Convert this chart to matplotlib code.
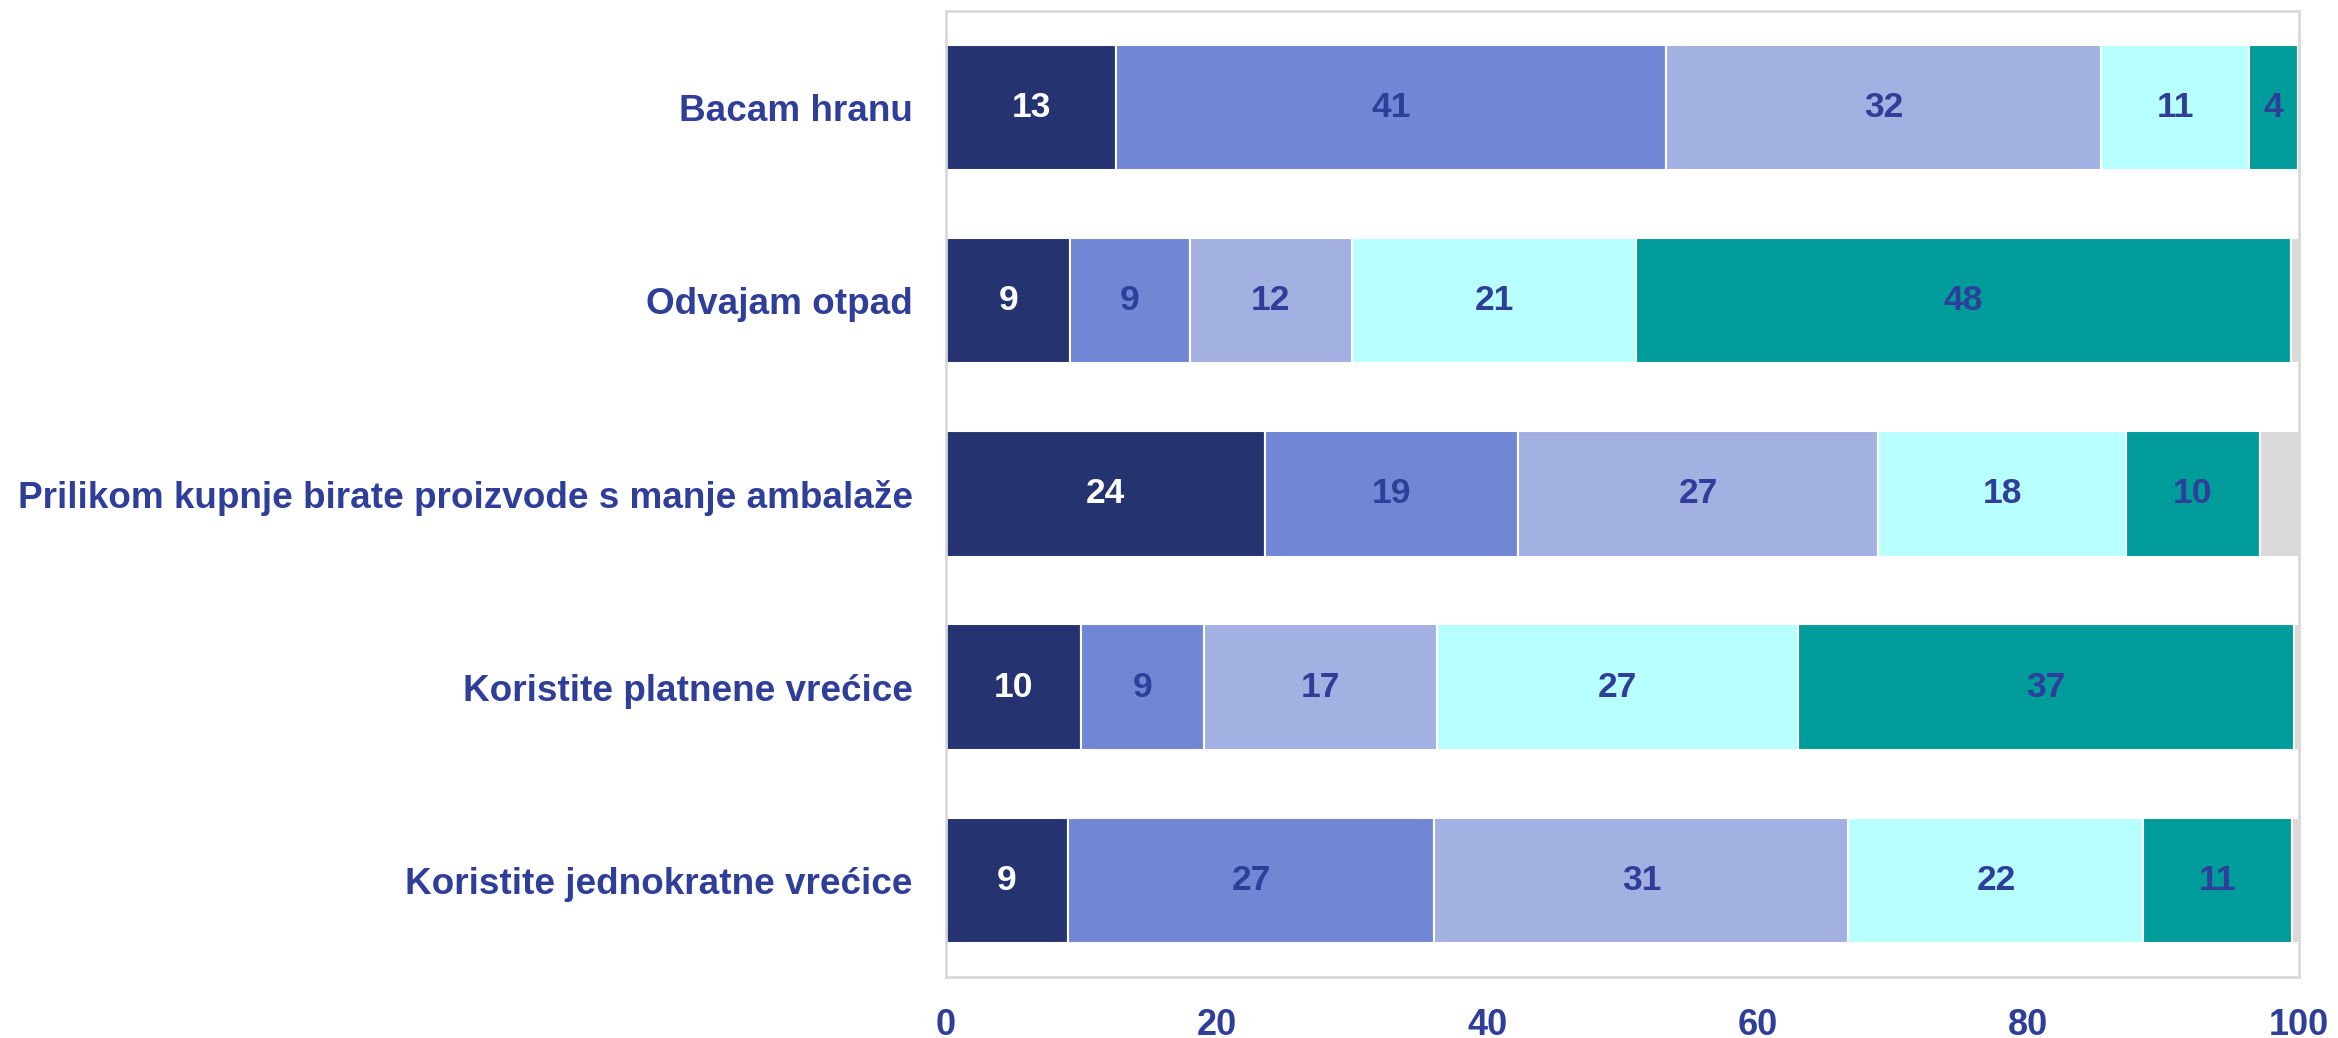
import matplotlib
matplotlib.use("Agg")
import matplotlib.pyplot as plt
import numpy as np

categories = ["Bacam hranu", "Odvajam otpad",
              "Prilikom kupnje birate proizvode s manje ambalaže",
              "Koristite platnene vrećice", "Koristite jednokratne vrećice"]
s1 = [12.6, 9.2, 23.6, 10.0, 9.0]
s2 = [40.6, 8.8, 18.7, 9.1, 27.1]
s3 = [32.2, 12.0, 26.6, 17.2, 30.6]
s4 = [10.9, 21.0, 18.3, 26.7, 21.8]
s5 = [3.6, 48.4, 9.9, 36.6, 11.0]
s_rest = [0.1, 0.6, 2.9, 0.4, 0.5]
xticks = [0, 20, 40, 60, 80, 100]

series = [s1, s2, s3, s4, s5, s_rest]
colors = ["#253470", "#7186d4", "#a3b0e2", "#b8ffff", "#009c9b", "#d9d9d9"]
label_colors = ["white", "#2f3f99", "#2f3f99", "#2f3f99", "#2f3f99", None]
blue = "#2f3f99"

plt.rcParams['font.family'] = ['Liberation Sans', 'DejaVu Sans']
fig = plt.figure(figsize=(23.38, 10.38), dpi=100)
ax = fig.add_axes([946/2338, 1-977/1038, (2299-946)/2338, (977-10.7)/1038])

y = np.arange(len(categories))
left = np.zeros(len(categories))
for vals, c, lc in zip(series, colors, label_colors):
    vals = np.array(vals)
    ax.barh(y, vals, left=left, height=0.65, color=c, edgecolor="white", linewidth=1.5)
    if lc is not None:
        for yi, (l, v) in enumerate(zip(left, vals)):
            ax.text(l + v/2, yi, f"{v:.0f}", ha="center", va="center",
                    color=lc, fontsize=25.5, fontweight="bold")
    left = left + vals

ax.set_xlim(0, 100)
ax.set_ylim(len(categories) - 0.5, -0.5)
ax.set_yticks(y)
ax.set_yticklabels(categories)
ax.set_xticks(xticks)
ax.set_xticklabels([str(t) for t in xticks])
ax.tick_params(axis="both", length=0, labelsize=26, labelcolor=blue)
ax.tick_params(axis="y", pad=24, labelsize=26.6)
ax.tick_params(axis="x", pad=22)
for lab in ax.get_xticklabels() + ax.get_yticklabels():
    lab.set_fontweight("bold")
for sp in ax.spines.values():
    sp.set_color("#d9d9d9")
    sp.set_linewidth(2)

fig.savefig("out.png", dpi=100, facecolor="white")
